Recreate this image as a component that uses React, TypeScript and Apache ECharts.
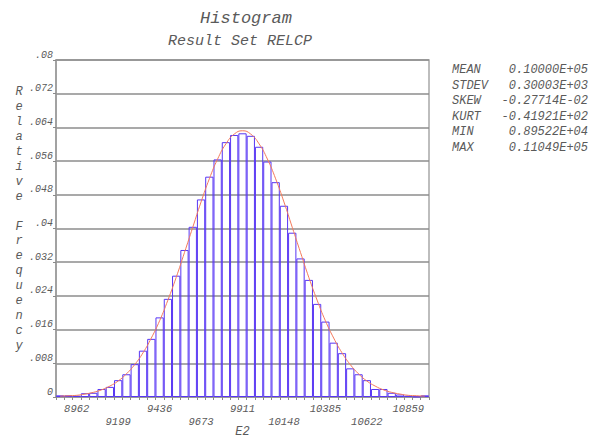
import React, { useEffect, useRef } from 'react';
import * as echarts from 'echarts';

// Relative frequency of each histogram bin (45 equal-width bins)
const relFreq = [
  0.0004, 0.0004, 0.0003, 0.0009, 0.0010, 0.0019, 0.0024, 0.0040, 0.0054, 0.0078,
  0.0110, 0.0138, 0.0189, 0.0233, 0.0288, 0.0349, 0.0404, 0.0469, 0.0523, 0.0564,
  0.0605, 0.0622, 0.0626, 0.0620, 0.0594, 0.0559, 0.0510, 0.0454, 0.0390, 0.0329,
  0.0278, 0.0221, 0.0179, 0.0129, 0.0104, 0.0068, 0.0054, 0.0040, 0.0019, 0.0019,
  0.0010, 0.0006, 0.0003, 0.0001, 0.0004,
];

// Fitted density curve, sampled at the bin centres
const fittedCurve = [
  0.0002, 0.0003, 0.0004, 0.0007, 0.0011, 0.0017, 0.0026, 0.0038, 0.0055, 0.0077,
  0.0105, 0.0140, 0.0181, 0.0230, 0.0284, 0.0343, 0.0403, 0.0463, 0.0518, 0.0565,
  0.0601, 0.0624, 0.0632, 0.0624, 0.0601, 0.0565, 0.0518, 0.0463, 0.0403, 0.0343,
  0.0284, 0.0230, 0.0181, 0.0140, 0.0105, 0.0077, 0.0055, 0.0038, 0.0026, 0.0017,
  0.0011, 0.0007, 0.0004, 0.0003, 0.0002,
];

// E2 values printed under every fifth bin, starting with the third bin
const xTickLabels = ['8962', '9199', '9436', '9673', '9911', '10148', '10385', '10622', '10859'];
const firstLabelBin = 2;
const binsPerLabel = 5;

const yMax = 0.08;
const yStep = 0.008;

const statNames = ['MEAN', 'STDEV', 'SKEW', 'KURT', 'MIN', 'MAX'];
const statValues = ['0.10000E+05', '0.30003E+03', '-0.27714E-02', '-0.41921E+02', '0.89522E+04', '0.11049E+05'];

const titleText = 'Histogram';
const subtitleText = 'Result Set RELCP';
const xAxisName = 'E2';
const yAxisName = 'Relative Frequency';

const MONO = "'Liberation Mono', 'DejaVu Sans Mono', monospace";
const TEXT_GREY = '#5a5a5a';

function formatY(v: number): string {
  if (v === 0) return '0';
  return v.toFixed(3).replace(/0+$/, '').replace(/^0/, '');
}

function xLabel(idx: number): string {
  const k = idx - firstLabelBin;
  if (k < 0 || k % binsPerLabel !== 0) return '';
  const n = k / binsPerLabel;
  const text = xTickLabels[n];
  if (text === undefined) return '';
  // alternate labels drop to a second row
  return n % 2 === 0 ? text : '\n' + text;
}

export default function App() {
  const ref = useRef<HTMLDivElement>(null);

  useEffect(() => {
    if (!ref.current) return;
    const chart = echarts.init(ref.current, null, { renderer: 'svg' });

    const statRowTop = 70;
    const statRowStep = 15.6;
    const statGraphics: any[] = [];
    statNames.forEach((name, i) => {
      statGraphics.push({
        type: 'text',
        style: {
          text: name,
          x: 452,
          y: statRowTop + i * statRowStep,
          textAlign: 'left',
          textVerticalAlign: 'middle',
          fontFamily: MONO,
          fontStyle: 'italic',
          fontSize: 12,
          fill: TEXT_GREY,
        },
      });
      statGraphics.push({
        type: 'text',
        style: {
          text: statValues[i],
          x: 588,
          y: statRowTop + i * statRowStep,
          textAlign: 'right',
          textVerticalAlign: 'middle',
          fontFamily: MONO,
          fontStyle: 'italic',
          fontSize: 12,
          fill: TEXT_GREY,
        },
      });
    });

    chart.setOption({
      animation: false,
      backgroundColor: '#ffffff',
      grid: {
        left: 56,
        top: 60,
        right: 166,
        bottom: 41,
        outerBoundsMode: 'none',
        containLabel: false,
        show: true,
        borderColor: '#a8a8a8',
        borderWidth: 1.5,
        backgroundColor: 'transparent',
      },
      xAxis: {
        type: 'category',
        data: relFreq.map((_, i) => String(i)),
        boundaryGap: true,
        axisLine: { show: true, lineStyle: { color: '#9a9a9a', width: 1 } },
        axisTick: { show: true, interval: 0, length: 3, lineStyle: { color: '#8a8a8a' } },
        axisLabel: {
          interval: 0,
          margin: 5,
          formatter: (_v: string, idx: number) => xLabel(idx),
          fontFamily: MONO,
          fontStyle: 'italic',
          fontSize: 10.5,
          lineHeight: 13,
          color: TEXT_GREY,
        },
        name: xAxisName,
        nameLocation: 'middle',
        nameGap: 29,
        nameMoveOverlap: false,
        nameTextStyle: {
          fontFamily: MONO,
          fontStyle: 'italic',
          fontSize: 12,
          color: TEXT_GREY,
        },
        splitLine: { show: false },
      },
      yAxis: {
        type: 'value',
        min: 0,
        max: yMax,
        interval: yStep,
        axisLine: { show: true, lineStyle: { color: '#9a9a9a', width: 1.5 } },
        axisTick: { show: true, length: 3, lineStyle: { color: '#8a8a8a' } },
        axisLabel: {
          margin: 3,
          formatter: formatY,
          fontFamily: MONO,
          fontStyle: 'italic',
          fontSize: 10,
          lineHeight: 10,
          verticalAlign: 'bottom',
          color: TEXT_GREY,
        },
        splitLine: { show: true, lineStyle: { color: '#8c8c8c', width: 1.5 } },
      },
      series: [
        {
          type: 'bar',
          data: relFreq,
          barCategoryGap: '0%',
          itemStyle: {
            color: 'rgba(0,0,0,0)',
            borderColor: '#5836f4',
            borderWidth: 1,
          },
          z: 2,
        },
        {
          type: 'line',
          data: fittedCurve,
          smooth: true,
          symbol: 'none',
          lineStyle: { color: '#f47a5c', width: 1 },
          z: 3,
        },
      ],
      graphic: [
        {
          type: 'text',
          style: {
            text: titleText,
            x: 246,
            y: 18,
            textAlign: 'center',
            textVerticalAlign: 'middle',
            fontFamily: MONO,
            fontStyle: 'italic',
            fontSize: 17,
            fill: TEXT_GREY,
          },
        },
        {
          type: 'text',
          style: {
            text: subtitleText,
            x: 240,
            y: 41,
            textAlign: 'center',
            textVerticalAlign: 'middle',
            fontFamily: MONO,
            fontStyle: 'italic',
            fontSize: 15,
            fill: TEXT_GREY,
          },
        },
        {
          type: 'text',
          style: {
            text: yAxisName.split('').join('\n'),
            x: 19,
            y: 85,
            textAlign: 'center',
            textVerticalAlign: 'top',
            lineHeight: 14.9,
            fontFamily: MONO,
            fontStyle: 'italic',
            fontSize: 12,
            fill: TEXT_GREY,
          },
        },
        ...statGraphics,
      ],
    });

    return () => chart.dispose();
  }, []);

  return (
    <div
      ref={ref}
      style={{ position: 'fixed', left: 0, top: 0, width: 595, height: 438, background: '#ffffff' }}
    />
  );
}
